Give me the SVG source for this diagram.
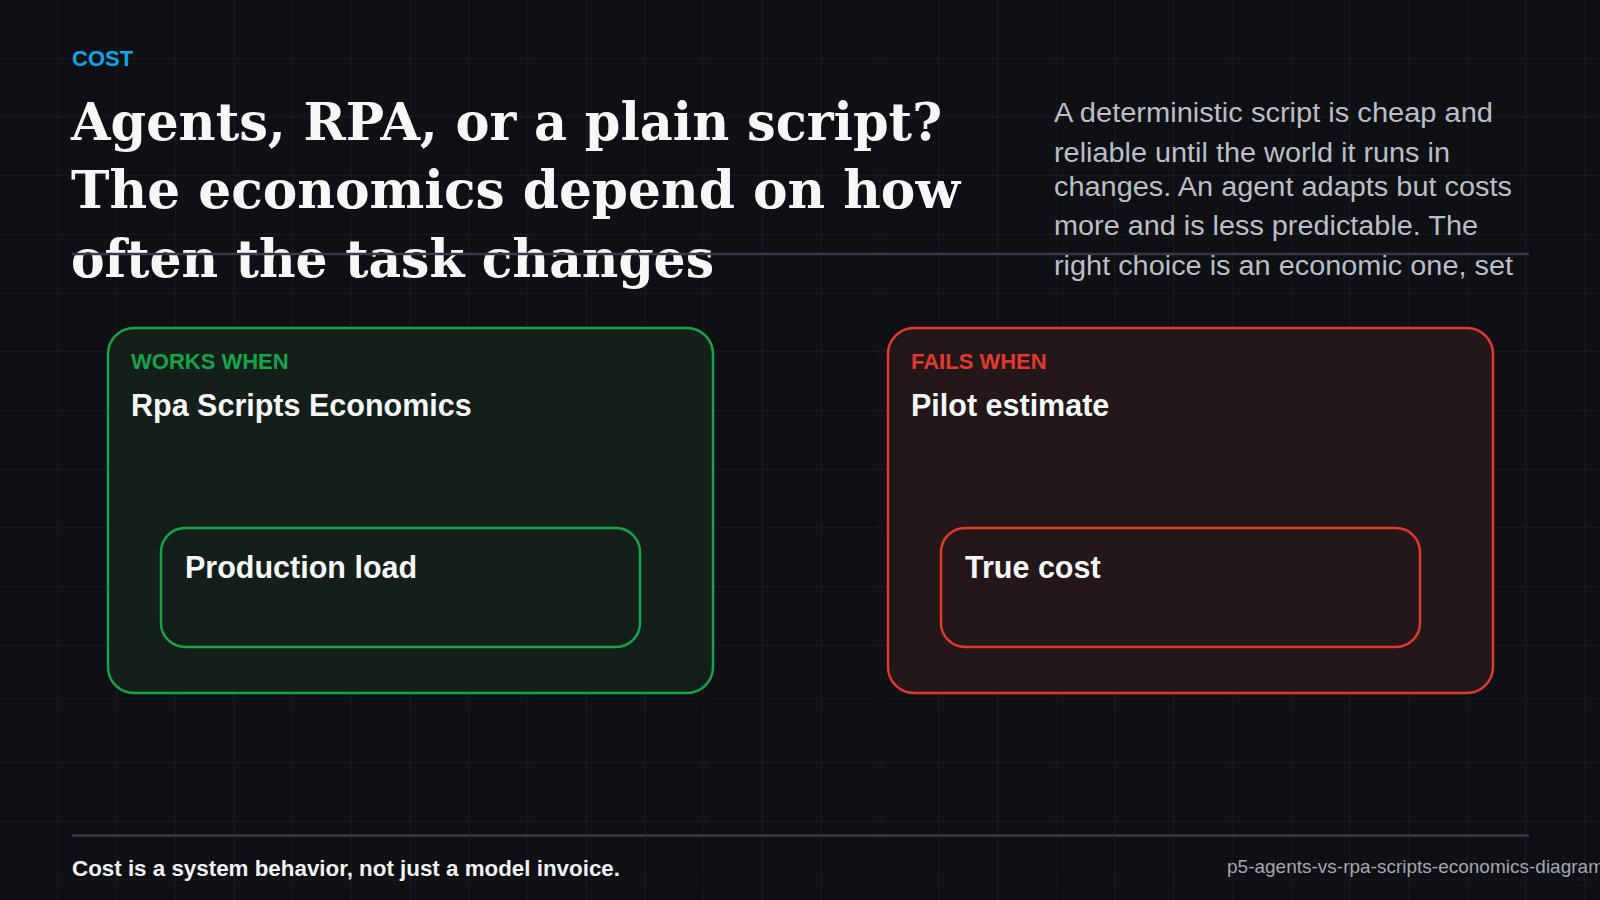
<svg xmlns="http://www.w3.org/2000/svg" width="1600" height="900" viewBox="0 0 1600 900">
  <defs>
    <pattern id="grid" x="0" y="0" width="58.7" height="58.7" patternUnits="userSpaceOnUse">
      <path d="M58.7 0 V58.7 M0 58.7 H58.7" fill="none" stroke="#1b1e25" stroke-width="1.5"/>
    </pattern>
    <style>
      .sans { font-family: "Liberation Sans", Arial, sans-serif; }
      .title { font-family: "DejaVu Serif", "Liberation Serif", serif; font-weight: bold; font-size: 52px; fill: #f6f7f9; }
      .body { font-family: "Liberation Sans", Arial, sans-serif; font-size: 27px; fill: #b9bec8; }
      .rule { stroke: #353b47; stroke-width: 2.5; }
      .kicker { font-family: "Liberation Sans", Arial, sans-serif; font-weight: bold; font-size: 22px; }
      .head { font-family: "Liberation Sans", Arial, sans-serif; font-weight: bold; font-size: 30.5px; fill: #f6f7f9; }
      .good { stroke: #16a34a; }
      .bad { stroke: #e0392f; }
    </style>
  </defs>
  <rect width="1600" height="900" fill="#0f1013"/>
  <rect width="1600" height="900" fill="url(#grid)"/>

  <g id="header">
    <text x="72" y="66" class="kicker" fill="#0ea5e9">COST</text>
    <text class="title" x="71" y="140" textLength="871" lengthAdjust="spacingAndGlyphs">Agents, RPA, or a plain script?</text>
    <text class="title" x="71" y="208" textLength="889" lengthAdjust="spacingAndGlyphs">The economics depend on how</text>
    <text class="title" x="71" y="277" textLength="643" lengthAdjust="spacingAndGlyphs">often the task changes</text>
    <line x1="72" y1="254" x2="1529" y2="254" class="rule"/>
    <text class="body" x="1054" y="122" textLength="439" lengthAdjust="spacingAndGlyphs">A deterministic script is cheap and</text>
    <text class="body" x="1054" y="162" textLength="396" lengthAdjust="spacingAndGlyphs">reliable until the world it runs in</text>
    <text class="body" x="1054" y="196" textLength="458" lengthAdjust="spacingAndGlyphs">changes. An agent adapts but costs</text>
    <text class="body" x="1054" y="235" textLength="424" lengthAdjust="spacingAndGlyphs">more and is less predictable. The</text>
    <text class="body" x="1054" y="275" textLength="459" lengthAdjust="spacingAndGlyphs">right choice is an economic one, set</text>
  </g>

  <g id="works-when">
    <rect x="108" y="328" width="605" height="365" rx="26" fill="#151f1a" stroke-width="2.5" class="good"/>
    <text x="131" y="369" class="kicker" fill="#16a34a">WORKS WHEN</text>
    <text x="131" y="416" class="head">Rpa Scripts Economics</text>
  </g>
  <g id="production-load">
    <rect x="161" y="528" width="479" height="119" rx="24" fill="#151f1a" stroke-width="2.5" class="good"/>
    <text x="185" y="578" class="head">Production load</text>
  </g>

  <g id="fails-when">
    <rect x="888" y="328" width="605" height="365" rx="26" fill="#23171a" stroke-width="2.5" class="bad"/>
    <text x="911" y="369" class="kicker" fill="#e0392f">FAILS WHEN</text>
    <text x="911" y="416" class="head">Pilot estimate</text>
  </g>
  <g id="true-cost">
    <rect x="941" y="528" width="479" height="119" rx="24" fill="#23171a" stroke-width="2.5" class="bad"/>
    <text x="965" y="578" class="head">True cost</text>
  </g>

  <g id="connectors"></g>

  <g id="footer">
    <line x1="72" y1="835.5" x2="1529" y2="835.5" class="rule"/>
    <text x="72" y="876" class="sans" font-weight="bold" font-size="21.5" fill="#f2f3f5" textLength="548" lengthAdjust="spacingAndGlyphs">Cost is a system behavior, not just a model invoice.</text>
    <text x="1227" y="873" class="sans" font-size="19" fill="#a3a8b2">p5-agents-vs-rpa-scripts-economics-diagram</text>
  </g>
</svg>
